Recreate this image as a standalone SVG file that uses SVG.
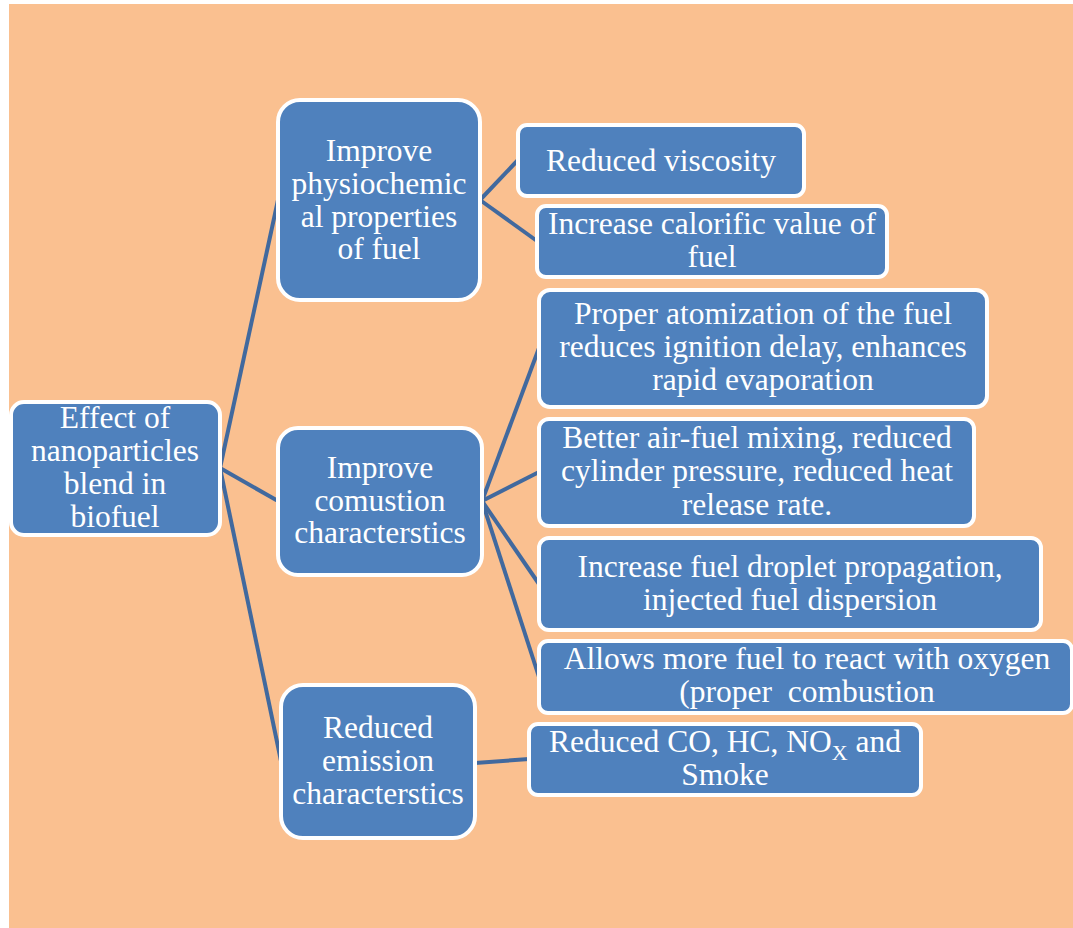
<svg xmlns="http://www.w3.org/2000/svg" width="1073" height="928" viewBox="0 0 1073 928">
<style>
.box{fill:#4F81BD;stroke:#FFFFFF;stroke-width:4}
text{font-family:'Liberation Serif','Times New Roman',serif;font-size:31.5px;fill:#FFFFFF;text-anchor:middle}
.c{stroke:#41699E;stroke-width:4;fill:none;stroke-linecap:butt}
</style>
<rect x="0" y="0" width="1073" height="928" fill="#FFFFFF"/>
<rect x="9" y="4" width="1064" height="924" fill="#FAC090"/>
<g id="connectors">
<line class="c" x1="220" y1="468" x2="278" y2="200"/>
<line class="c" x1="220" y1="468" x2="278" y2="501"/>
<line class="c" x1="220" y1="468" x2="281" y2="761"/>
<line class="c" x1="480" y1="200" x2="518" y2="160"/>
<line class="c" x1="480" y1="200" x2="537" y2="241"/>
<line class="c" x1="482" y1="501" x2="539" y2="348"/>
<line class="c" x1="482" y1="501" x2="539" y2="472"/>
<line class="c" x1="482" y1="501" x2="539" y2="584"/>
<line class="c" x1="482" y1="501" x2="539" y2="677"/>
<line class="c" x1="475" y1="763" x2="529" y2="759"/>
</g>
<g id="root">
<rect class="box" x="11" y="402" width="209" height="133" rx="13"/>
<text x="115" y="428">Effect of</text>
<text x="115" y="461">nanoparticles</text>
<text x="115" y="494">blend in</text>
<text x="115" y="527">biofuel</text>
</g>
<g id="physio">
<rect class="box" x="278" y="100" width="202" height="200" rx="22"/>
<text x="379" y="161">Improve</text>
<text x="379" y="194">physiochemic</text>
<text x="379" y="227">al properties</text>
<text x="379" y="259">of fuel</text>
</g>
<g id="combustion">
<rect class="box" x="278" y="428" width="204" height="147" rx="20"/>
<text x="380" y="478">Improve</text>
<text x="380" y="511">comustion</text>
<text x="380" y="543">characterstics</text>
</g>
<g id="emission">
<rect class="box" x="281" y="685" width="194" height="153" rx="22"/>
<text x="378" y="738">Reduced</text>
<text x="378" y="771">emission</text>
<text x="378" y="804">characterstics</text>
</g>
<g id="viscosity">
<rect class="box" x="518" y="125" width="286" height="71" rx="9"/>
<text x="661" y="171">Reduced viscosity</text>
</g>
<g id="calorific">
<rect class="box" x="537" y="206" width="350" height="71" rx="9"/>
<text x="712" y="234">Increase calorific value of</text>
<text x="712" y="267">fuel</text>
</g>
<g id="atomization">
<rect class="box" x="539" y="290" width="448" height="117" rx="11"/>
<text x="763" y="324">Proper atomization of the fuel</text>
<text x="763" y="357">reduces ignition delay, enhances</text>
<text x="763" y="390">rapid evaporation</text>
</g>
<g id="mixing">
<rect class="box" x="539" y="419" width="435" height="107" rx="10"/>
<text x="757" y="448">Better air-fuel mixing, reduced</text>
<text x="757" y="481">cylinder pressure, reduced heat</text>
<text x="757" y="515">release rate.</text>
</g>
<g id="droplet">
<rect class="box" x="539" y="538" width="502" height="92" rx="10"/>
<text x="790" y="577">Increase fuel droplet propagation,</text>
<text x="790" y="610">injected fuel dispersion</text>
</g>
<g id="oxygen">
<rect class="box" x="539" y="641" width="533" height="72" rx="9"/>
<text x="807" y="669">Allows more fuel to react with oxygen</text>
<text x="807" y="702" xml:space="preserve">(proper  combustion</text>
</g>
<g id="reduced-co">
<rect class="box" x="529" y="724" width="392" height="71" rx="9"/>
<text x="725" y="752">Reduced CO, HC, NO<tspan font-size="22" dy="8">X</tspan><tspan dy="-8"> and</tspan></text>
<text x="725" y="785">Smoke</text>
</g>
</svg>
